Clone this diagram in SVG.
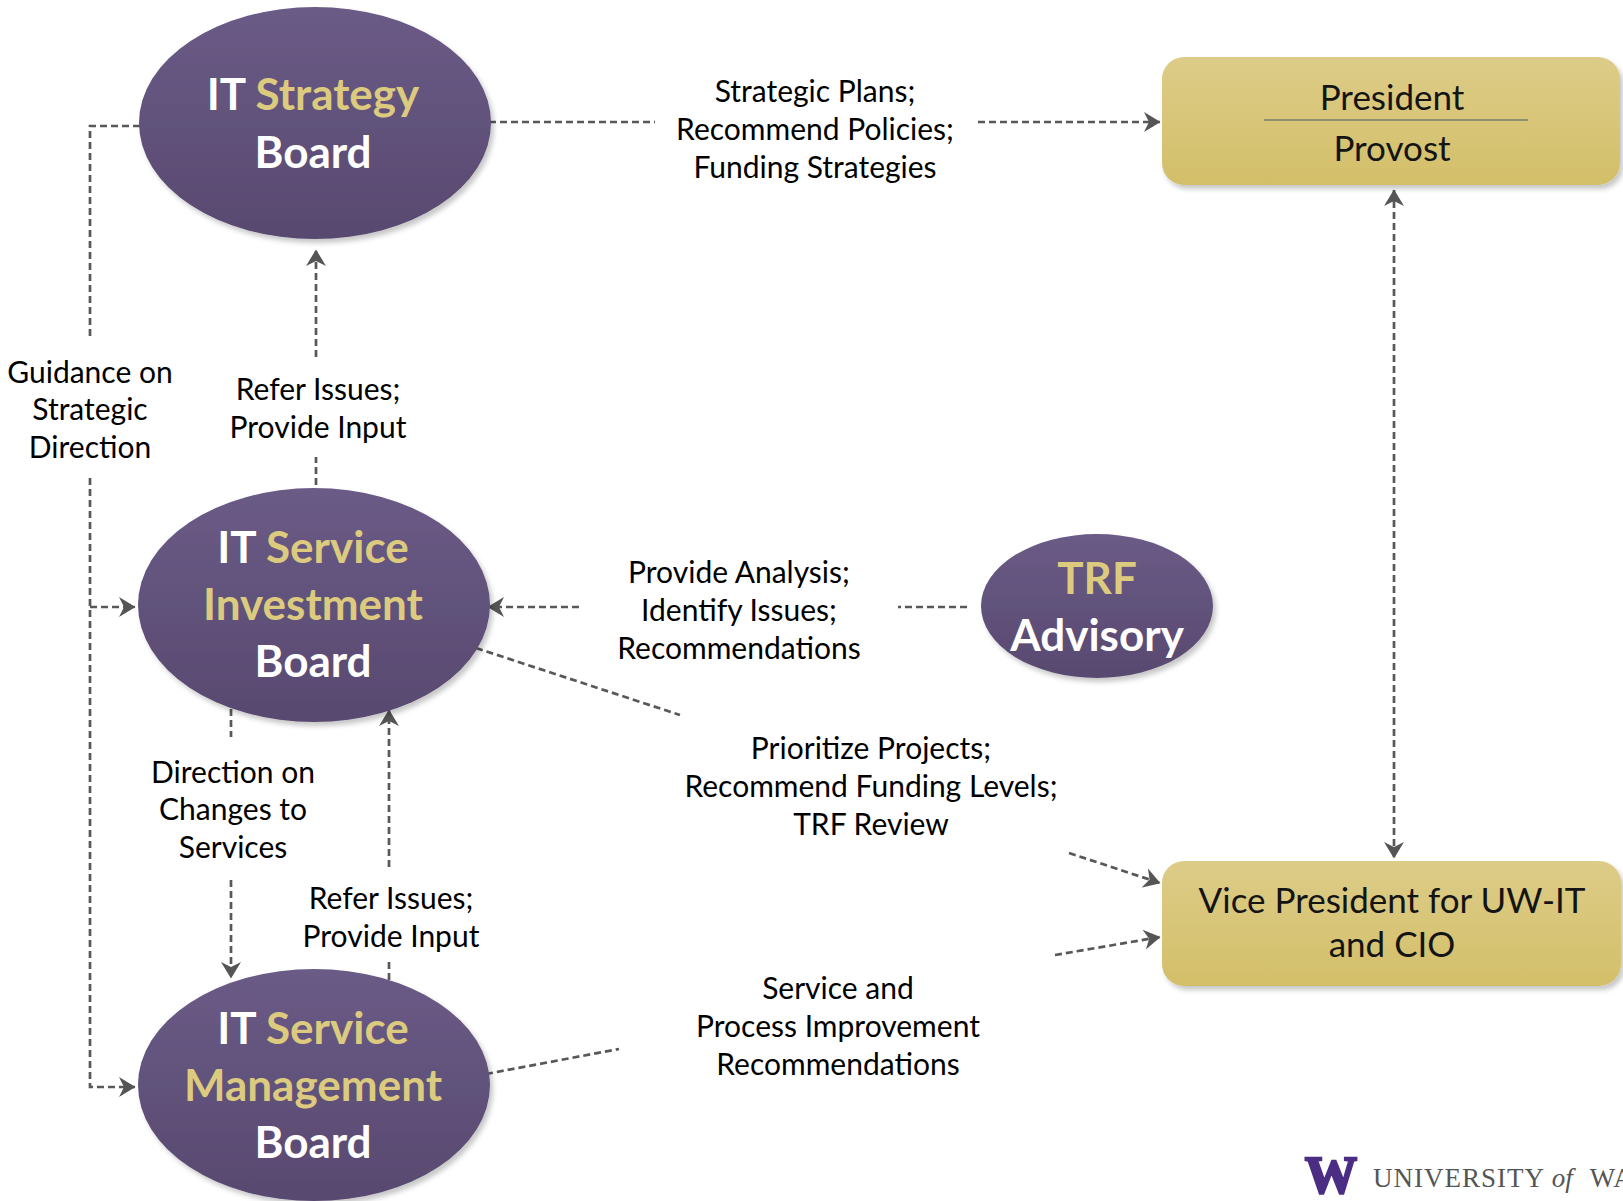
<svg xmlns="http://www.w3.org/2000/svg" width="1623" height="1201" viewBox="0 0 1623 1201">
<defs>
  <linearGradient id="gPurple" x1="0" y1="0" x2="0" y2="1">
    <stop offset="0" stop-color="#6A5B86"/>
    <stop offset="1" stop-color="#584970"/>
  </linearGradient>
  <linearGradient id="gGold" x1="0" y1="0" x2="0" y2="1">
    <stop offset="0" stop-color="#DDCC88"/>
    <stop offset="1" stop-color="#D3BF69"/>
  </linearGradient>
  <filter id="shadow" x="-10%" y="-10%" width="125%" height="130%">
    <feDropShadow dx="3" dy="4" stdDeviation="2.5" flood-color="#000" flood-opacity="0.22"/>
  </filter>
  <marker id="arrow" viewBox="0 0 17 22" refX="16" refY="11" markerWidth="17" markerHeight="22" markerUnits="userSpaceOnUse" orient="auto-start-reverse">
    <path d="M16.5,11 L0,1 L5,11 L0,21 z" fill="#555"/>
  </marker>
</defs>
<style>
  .ell{fill:url(#gPurple);filter:url(#shadow)}
  .box{fill:url(#gGold);filter:url(#shadow)}
  .conn{fill:none;stroke:#585858;stroke-width:2.7;stroke-dasharray:7 4}
  .arr{marker-end:url(#arrow)}
  .lbl{font-family:Lato,"Liberation Sans",sans-serif;font-size:30px;fill:#000;text-anchor:middle}
  .nt{font-family:Lato,"Liberation Sans",sans-serif;font-weight:bold;font-size:44px;fill:#fff;text-anchor:middle}
  .gold{fill:#DCCA7E}
  .bt{font-family:Lato,"Liberation Sans",sans-serif;font-size:35px;fill:#141414;text-anchor:middle}
</style>
<rect width="1623" height="1201" fill="#fff"/>

<g id="connectors">
  <path class="conn" d="M489,122 H655"/>
  <path class="conn arr" d="M978,122 H1160"/>
  <path class="conn" d="M140,126 H90 V340"/>
  <path class="conn arr" d="M90,478 V1087 H135"/>
  <path class="conn arr" d="M90,607 H135"/>
  <path class="conn" d="M316,485 V457"/>
  <path class="conn arr" d="M316,357 V250"/>
  <path class="conn" d="M967,607 H898"/>
  <path class="conn arr" d="M579,607 H488"/>
  <path class="conn" d="M476,648 L680,715"/>
  <path class="conn arr" d="M1069,853 L1160,883"/>
  <path class="conn" d="M486,1074 L619,1049"/>
  <path class="conn arr" d="M1055,955 L1160,937"/>
  <path class="conn" d="M231,709 V737"/>
  <path class="conn arr" d="M231,880 V978"/>
  <path class="conn" d="M389,980 V962"/>
  <path class="conn arr" d="M389,867 V710"/>
  <path class="conn arr" d="M1394,190 V858" marker-start="url(#arrow)"/>
</g>

<g id="labels">
  <text class="lbl" x="815" y="102">Strategic Plans;</text>
  <text class="lbl" x="815" y="140">Recommend Policies;</text>
  <text class="lbl" x="815" y="178">Funding Strategies</text>

  <text class="lbl" x="90" y="383">Guidance on</text>
  <text class="lbl" x="90" y="420">Strategic</text>
  <text class="lbl" x="90" y="458">Direction</text>

  <text class="lbl" x="318" y="400">Refer Issues;</text>
  <text class="lbl" x="318" y="438">Provide Input</text>

  <text class="lbl" x="739" y="583">Provide Analysis;</text>
  <text class="lbl" x="739" y="621">Identify Issues;</text>
  <text class="lbl" x="739" y="659">Recommendations</text>

  <text class="lbl" x="871" y="759">Prioritize Projects;</text>
  <text class="lbl" x="871" y="797">Recommend Funding Levels;</text>
  <text class="lbl" x="871" y="835">TRF Review</text>

  <text class="lbl" x="233" y="783">Direction on</text>
  <text class="lbl" x="233" y="820">Changes to</text>
  <text class="lbl" x="233" y="858">Services</text>

  <text class="lbl" x="391" y="909">Refer Issues;</text>
  <text class="lbl" x="391" y="947">Provide Input</text>

  <text class="lbl" x="838" y="999">Service and</text>
  <text class="lbl" x="838" y="1037">Process Improvement</text>
  <text class="lbl" x="838" y="1075">Recommendations</text>
</g>

<g id="it-strategy-board">
  <ellipse class="ell" cx="315" cy="123" rx="176" ry="116"/>
  <text class="nt" x="313" y="110">IT <tspan class="gold">Strategy</tspan></text>
  <text class="nt" x="313" y="168">Board</text>
</g>

<g id="it-service-investment-board">
  <ellipse class="ell" cx="314" cy="605" rx="176" ry="117"/>
  <text class="nt" x="313" y="563">IT <tspan class="gold">Service</tspan></text>
  <text class="nt gold" x="313" y="620">Investment</text>
  <text class="nt" x="313" y="677">Board</text>
</g>

<g id="it-service-management-board">
  <ellipse class="ell" cx="314" cy="1085" rx="176" ry="116"/>
  <text class="nt" x="313" y="1044">IT <tspan class="gold">Service</tspan></text>
  <text class="nt gold" x="313" y="1101">Management</text>
  <text class="nt" x="313" y="1158">Board</text>
</g>

<g id="trf-advisory">
  <ellipse class="ell" cx="1097" cy="606" rx="116" ry="72"/>
  <text class="nt gold" x="1097" y="594">TRF</text>
  <text class="nt" x="1097" y="651">Advisory</text>
</g>

<g id="president-provost">
  <rect class="box" x="1162" y="57" width="458" height="128" rx="22"/>
  <text class="bt" x="1392" y="110">President</text>
  <line x1="1264" y1="120" x2="1528" y2="120" stroke="#7a7a70" stroke-width="1.5"/>
  <text class="bt" x="1392" y="161">Provost</text>
</g>

<g id="vp-uwit-cio">
  <rect class="box" x="1162" y="861" width="459" height="125" rx="22"/>
  <text class="bt" x="1392" y="913" font-size="34">Vice President for UW-IT</text>
  <text class="bt" x="1392" y="957" font-size="34">and CIO</text>
</g>

<g id="logo">
  <text x="1305" y="1193" font-family="'Liberation Serif',serif" font-weight="bold" font-size="52" fill="#4B2E83" stroke="#4B2E83" stroke-width="2.5" textLength="52" lengthAdjust="spacingAndGlyphs">W</text>
  <text x="1373" y="1187" font-family="'Liberation Serif',serif" font-size="27" fill="#555" letter-spacing="1">UNIVERSITY <tspan font-style="italic" letter-spacing="0">of</tspan><tspan dx="17">WA</tspan></text>
</g>
</svg>
